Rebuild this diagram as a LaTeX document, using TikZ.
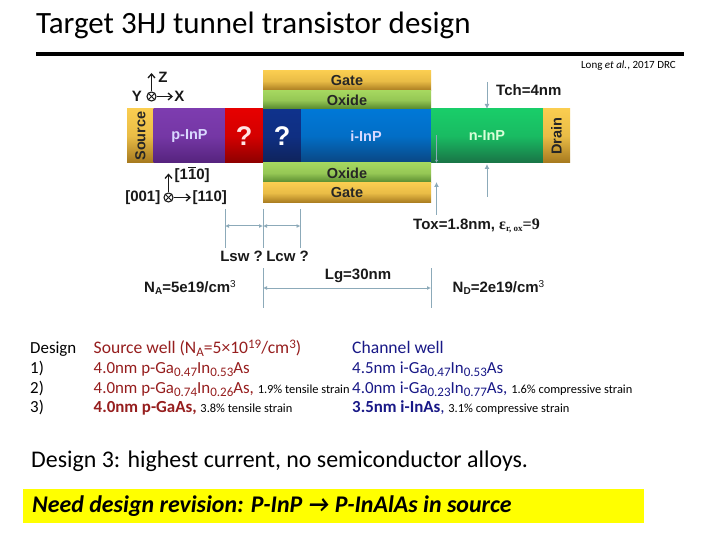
\documentclass[tikz,border=0pt]{standalone}
\usepackage{fontspec}
\usetikzlibrary{arrows.meta}
\setmainfont{Carlito}
\newfontfamily\ar{Liberation Sans}
\newfontfamily\serf{Liberation Serif}
\definecolor{dred}{RGB}{150,30,30}
\definecolor{dblue}{RGB}{25,25,135}
\definecolor{dimc}{RGB}{140,170,185}
\definecolor{goldA}{RGB}{250,205,80}
\definecolor{goldB}{RGB}{165,120,30}
\definecolor{greenA}{RGB}{165,215,95}
\definecolor{greenB}{RGB}{85,135,45}
\definecolor{purA}{RGB}{125,60,175}
\definecolor{purB}{RGB}{85,35,125}
\definecolor{redA}{RGB}{230,0,0}
\definecolor{redB}{RGB}{140,0,0}
\definecolor{navA}{RGB}{15,50,140}
\definecolor{navB}{RGB}{15,35,90}
\definecolor{bluA}{RGB}{0,120,215}
\definecolor{bluB}{RGB}{10,70,130}
\definecolor{grnA}{RGB}{25,205,105}
\definecolor{grnB}{RGB}{25,115,70}
\definecolor{hilite}{RGB}{255,255,0}
\tikzset{
 x=1pt,y=-1pt,
 band/.style={draw=none,inner sep=0,outer sep=0,anchor=north west},
 dia/.style={font=\ar\bfseries\fontsize{15}{16}\selectfont,text=black!90,inner sep=0},
 lay/.style={font=\ar\bfseries\fontsize{14.5}{16}\selectfont,inner sep=0},
 dimline/.style={draw=dimc,line width=1pt},
 dimarr/.style={dimline,{Latex[length=4pt,width=4pt]}-{Latex[length=4pt,width=4pt]}},
 onearr/.style={dimline,-{Latex[length=5pt,width=5pt]}},
 axarr/.style={draw=black!90,line width=1.3pt,-{Straight Barb[length=4pt,width=7pt]}},
 crossc/.style={draw=black!90,circle,line width=1.1pt,minimum size=9pt,inner sep=0},
 txt/.style={anchor=base west,inner sep=0,font=\fontsize{16.9}{20}\selectfont},
 lwtxt/.style={txt,text=dred},
 rwtxt/.style={txt,text=dblue},
 headtxt/.style={font=\fontsize{17.6}{20}\selectfont},
 captxt/.style={anchor=base west,inner sep=0,font=\fontsize{23.9}{28}\selectfont},
}
\newcommand{\bandbox}[7]{\node[band,minimum width=#3pt,minimum height=#4pt,top color=#5,bottom color=#6,middle color=#5!80!#6] (#7) at (#1,#2) {};}
\newcommand{\dn}[1]{\raisebox{-3.5pt}{\fontsize{13}{13}\selectfont #1}}
\newcommand{\uu}[1]{\raisebox{5pt}{\fontsize{13}{13}\selectfont #1}}
\newcommand{\smtxt}{\fontsize{12.4}{14}\selectfont}
\begin{document}
\begin{tikzpicture}
\useasboundingbox (0,0) rectangle (720,540);
\fill[white] (0,0) rectangle (720,540);
% title
\node[anchor=base west,inner sep=0,font=\fontsize{31}{36}\selectfont] (title) at (36,34) {Target 3HJ tunnel transistor design};
\coordinate (ruleL) at (36,53.7); \coordinate (ruleR) at (684,53.7);
\draw[line width=4pt] (ruleL) -- (ruleR);
\node[anchor=base east,inner sep=0,font=\fontsize{11}{13}\selectfont] (ref) at (676,69) {Long \textit{et al.}, 2017 DRC};
% device
\bandbox{127}{109}{27}{54}{goldA}{goldB}{src}
\bandbox{153.5}{109}{72}{54}{purA}{purB}{pinp}
\bandbox{225}{109}{38}{54}{redA}{redB}{qr}
\bandbox{263}{109}{38}{54}{navA}{navB}{qb}
\bandbox{301}{109}{130}{54}{bluA}{bluB}{iinp}
\bandbox{431}{109}{112}{54}{grnA}{grnB}{ninp}
\bandbox{543}{109}{27}{54}{goldA}{goldB}{drn}
\bandbox{263}{71}{168}{20}{goldA}{goldB}{gt}
\bandbox{263}{91}{168}{18}{greenA}{greenB}{ot}
\bandbox{263}{163}{168}{20}{greenA}{greenB}{ob}
\bandbox{263}{183}{168}{20}{goldA}{goldB}{gb}
\node[lay,text=black!85] at (gt.center) {Gate};
\node[lay,text=black!85] at (ot.center) {Oxide};
\node[lay,text=black!85] at (ob.center) {Oxide};
\node[lay,text=black!85] at (gb.center) {Gate};
\node[lay,rotate=90,text=black!85] at (src.center) {Source};
\node[lay,rotate=90,text=black!85] at (drn.center) {Drain};
\node[lay,text=white!85!blue] at (pinp.center) {p-InP};
\node[lay,text=white!85!blue] at (iinp.center) {i-InP};
\node[lay,text=white!85!green] at (ninp.center) {n-InP};
\node[font=\ar\bfseries\fontsize{27}{30}\selectfont,text=white!90!red,inner sep=0] at (qr.center) {?};
\node[font=\ar\bfseries\fontsize{27}{30}\selectfont,text=white,inner sep=0] at (qb.center) {?};
% axes top
\node[crossc] (xyz) at (151.5,96.5) {};
\draw[black!90,line width=0.9pt] (xyz.north west)--(xyz.south east) (xyz.north east)--(xyz.south west);
\coordinate (zt) at (151.5,73); \coordinate (xt) at (173,96.5);
\draw[axarr] (xyz) -- (zt);
\draw[axarr] (xyz) -- (xt);
\node[dia] (Z) at (163,77) {Z};
\node[dia] (X) at (179.5,96.5) {X};
\node[dia] (Y) at (137,96.5) {Y};
% axes bottom
\node[crossc] (cr) at (168.5,197.5) {};
\draw[black!90,line width=0.9pt] (cr.north west)--(cr.south east) (cr.north east)--(cr.south west);
\coordinate (atop) at (168.5,173.5); \coordinate (btop) at (191,197.5);
\draw[axarr] (cr) -- (atop);
\draw[axarr] (cr) -- (btop);
\node[dia,anchor=west] (l1) at (174.5,175) {[1\rlap{\raisebox{11.8pt}{\rule{8.3pt}{1pt}}}10]};
\node[dia,anchor=east] (l2) at (160.5,197.5) {[001]};
\node[dia,anchor=west] (l3) at (192.5,197.5) {[110]};
% Tch arrows
\coordinate (t1) at (487,82); \coordinate (t2) at (487,109);
\coordinate (t3) at (487,197); \coordinate (t4) at (487,164);
\draw[onearr] (t1) -- (t2);
\draw[onearr] (t3) -- (t4);
\node[dia,anchor=west] (tch) at (496,90) {Tch=4nm};
% Tox arrows
\coordinate (o1) at (436.5,135); \coordinate (o2) at (436.5,163);
\coordinate (o3) at (436.5,215); \coordinate (o4) at (436.5,182);
\draw[dimline,line width=0.7pt,-{Latex[length=3pt,width=3pt]}] (o1) -- (o2);
\draw[onearr] (o3) -- (o4);
\node[dia,anchor=west] (tox) at (413,226) {Tox=1.8nm, {\serf\fontsize{16}{17}\selectfont ε\raisebox{-2pt}{\fontsize{9}{10}\selectfont r, ox}=9}};
% dims Lsw, Lcw
\coordinate (a1) at (225,209); \coordinate (a2) at (225,248);
\coordinate (b1) at (263,209); \coordinate (b2) at (263,248);
\coordinate (c1) at (300.5,209); \coordinate (c2) at (300.5,248);
\draw[dimline] (a1)--(a2); \draw[dimline] (b1)--(b2); \draw[dimline] (c1)--(c2);
\coordinate (am) at (225,226); \coordinate (bm) at (263,226); \coordinate (cm) at (300.5,226);
\draw[dimarr] (am)--(bm);
\draw[dimarr] (bm)--(cm);
\node[dia] (lsw) at (241.5,256.5) {Lsw ?};
\node[dia] (lcw) at (287.5,256.5) {Lcw ?};
% Lg
\coordinate (d1) at (263,268); \coordinate (d2) at (263,308);
\coordinate (e1) at (431,268); \coordinate (e2) at (431,308);
\draw[dimline] (d1)--(d2); \draw[dimline] (e1)--(e2);
\coordinate (dm) at (263,288); \coordinate (em) at (431,288);
\draw[dimarr] (dm)--(em);
\node[dia] (lg) at (358,275.5) {Lg=30nm};
\node[dia] (na) at (190,287.5) {N\raisebox{-2.5pt}{\fontsize{10}{11}\selectfont A}=5e19/cm\raisebox{5pt}{\fontsize{10}{11}\selectfont\mdseries 3}};
\node[dia] (nd) at (498.5,287.5) {N\raisebox{-2.5pt}{\fontsize{10}{11}\selectfont D}=2e19/cm\raisebox{5pt}{\fontsize{10}{11}\selectfont\mdseries 3}};
% table
\node[txt] (h0) at (30,353) {Design};
\node[txt] (r1) at (30,373) {1)};
\node[txt] (r2) at (30,393) {2)};
\node[txt] (r3) at (30,412.5) {3)};
\node[lwtxt,headtxt] (s0) at (93.5,353) {Source well (N\dn{A}=5×10\uu{19}/cm\uu{3})};
\node[lwtxt] (s1) at (93.5,373) {4.0nm p-Ga\dn{0.47}In\dn{0.53}As};
\node[lwtxt] (s2) at (93.5,393) {4.0nm p-Ga\dn{0.74}In\dn{0.26}As, {\smtxt\color{black}1.9\% tensile strain}};
\node[lwtxt] (s3) at (93.5,412.5) {\textbf{4.0nm p-GaAs,} {\smtxt\color{black}3.8\% tensile strain}};
\node[rwtxt,headtxt] (c0) at (352,353) {Channel well};
\node[rwtxt] (c1) at (352,373) {4.5nm i-Ga\dn{0.47}In\dn{0.53}As};
\node[rwtxt] (c2) at (352,393) {4.0nm i-Ga\dn{0.23}In\dn{0.77}As, {\smtxt\color{black}1.6\% compressive strain}};
\node[rwtxt] (c3) at (352,412.5) {\textbf{3.5nm i-InAs}, {\smtxt\color{black}3.1\% compressive strain}};
% conclusion
\node[captxt] (concl) at (31,467) {Design 3: highest current, no semiconductor alloys.};
\fill[hilite] (23,489) rectangle (644,523);
\node[captxt,font=\fontsize{23.9}{28}\selectfont\bfseries\itshape] (need) at (32,512) {Need design revision: P-InP → P-InAlAs in source};
\end{tikzpicture}
\end{document}
